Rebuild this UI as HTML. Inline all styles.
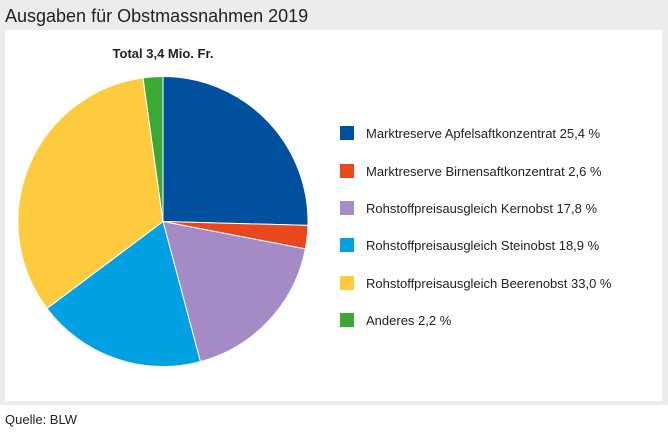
<!DOCTYPE html>
<html><head><meta charset="utf-8"><style>
body{margin:0;width:668px;height:436px;background:#fff;font-family:"Liberation Sans Narrow","Liberation Sans",sans-serif;overflow:hidden;position:relative}
#bg{position:absolute;left:0;top:0;width:668px;height:405px;background:#ececec}
#panel{position:absolute;left:5px;top:30px;width:657px;height:371px;background:#fff}
#title{position:absolute;left:5px;top:6px;font-size:18px;color:#222}
#src{position:absolute;left:5px;top:412px;font-size:13px;color:#222}
svg{position:absolute;left:0;top:0}
</style></head><body>
<div id="bg"></div>
<div id="panel"></div>
<div id="title">Ausgaben für Obstmassnahmen 2019</div>
<div id="src">Quelle: BLW</div>
<svg id="chart" width="668" height="436">
<text x="163" y="58" text-anchor="middle" font-size="13" font-weight="bold" fill="#222" font-family="Liberation Sans Narrow, Liberation Sans, sans-serif">Total 3,4 Mio. Fr.</text>
</svg>
<script>
const categories=["Marktreserve Apfelsaftkonzentrat","Marktreserve Birnensaftkonzentrat","Rohstoffpreisausgleich Kernobst","Rohstoffpreisausgleich Steinobst","Rohstoffpreisausgleich Beerenobst","Anderes"];
const values=[25.4,2.6,17.8,18.9,33.0,2.2];
const labels=["25,4 %","2,6 %","17,8 %","18,9 %","33,0 %","2,2 %"];
const colors=["#0050a0","#e8481c","#a58bc5","#00a0e3","#fecb3f","#3aaa35"];
const svg=document.getElementById('chart');const NS="http://www.w3.org/2000/svg";
const cx=163,cy=221.5,r=145;
const total=values.reduce((a,b)=>a+b,0);
let a0=0;
values.forEach((v,i)=>{
 const a1=a0+v/total*2*Math.PI;
 const x0=cx+r*Math.sin(a0),y0=cy-r*Math.cos(a0),x1=cx+r*Math.sin(a1),y1=cy-r*Math.cos(a1);
 const p=document.createElementNS(NS,'path');
 p.setAttribute('d',`M${cx},${cy}L${x0},${y0}A${r},${r} 0 ${a1-a0>Math.PI?1:0} 1 ${x1},${y1}Z`);
 p.setAttribute('fill',colors[i]);p.setAttribute('stroke','#fff');p.setAttribute('stroke-width','1');
 
 
 svg.appendChild(p);a0=a1;
 const ly=[133,171,208,245,283,320][i];
 const s=document.createElementNS(NS,'rect');
 s.setAttribute('x',340);s.setAttribute('y',ly-7);s.setAttribute('width',14);s.setAttribute('height',14);s.setAttribute('fill',colors[i]);
 
 
 svg.appendChild(s);
 const t=document.createElementNS(NS,'text');
 t.setAttribute('x',366);t.setAttribute('y',ly+5);t.setAttribute('font-size','13');t.setAttribute('fill','#222');
 t.setAttribute('font-family','Liberation Sans Narrow, Liberation Sans, sans-serif');
 t.textContent=categories[i]+' '+labels[i];
 
 
 svg.appendChild(t);
});
</script>
</body></html>
